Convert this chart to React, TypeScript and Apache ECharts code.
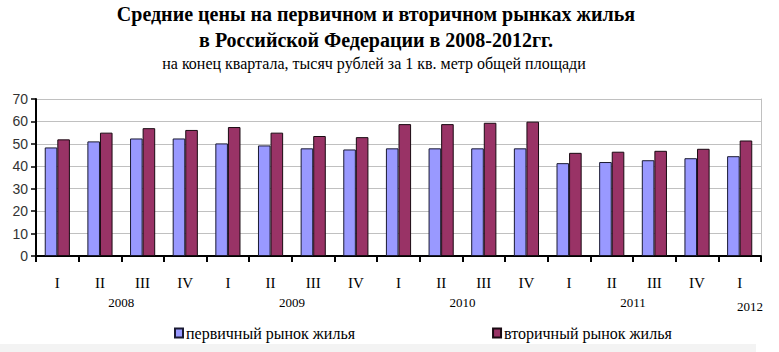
import React, { useEffect, useRef } from "react";
import * as echarts from "echarts";

const quarters = ["I", "II", "III", "IV", "I", "II", "III", "IV", "I", "II", "III", "IV", "I", "II", "III", "IV", "I"];
const primaryMarket = [48.4, 51.1, 52.4, 52.4, 50.2, 49.3, 48.0, 47.5, 48.0, 48.0, 48.0, 48.0, 41.4, 41.9, 42.7, 43.6, 44.5];
const secondaryMarket = [52.0, 55.0, 57.0, 56.2, 57.5, 55.0, 53.5, 53.0, 58.8, 58.8, 59.4, 59.9, 46.0, 46.5, 46.9, 47.8, 51.5];
const yearLabels: Record<string, string> = { "2": "2008", "6": "2009", "10": "2010", "14": "2011", "17": "2012" };
const seriesNames = ["первичный рынок жилья", "вторичный рынок жилья"];

export default function App() {
  const ref = useRef<HTMLDivElement>(null);
  useEffect(() => {
    if (!ref.current) return;
    const chart = echarts.init(ref.current, null, { renderer: "svg" });
    const serif = "Liberation Serif";
    chart.setOption({
      animation: false,
      backgroundColor: "#ffffff",
      title: [
        {
          text: "Средние цены на первичном и вторичном рынках жилья\nв Российской Федерации в 2008-2012гг.",
          left: 376,
          top: 1,
          padding: 0,
          textAlign: "center",
          textStyle: { fontFamily: serif, fontWeight: "bold", fontSize: 20, lineHeight: 26, color: "#000" },
        },
        {
          text: "на конец квартала, тысяч рублей за 1 кв. метр общей площади",
          left: 374,
          top: 55,
          padding: 0,
          textAlign: "center",
          textStyle: { fontFamily: serif, fontWeight: "normal", fontSize: 16, color: "#000" },
        },
      ],
      legend: {
        left: 169,
        top: 320,
        itemWidth: 8,
        itemHeight: 9,
        itemGap: 137,
        icon: "rect",
        textStyle: { fontFamily: serif, fontSize: 16, color: "#000", padding: [0, 0, 0, -2] },
        data: seriesNames,
      },
      grid: { left: 36, right: 18, top: 99, bottom: 96, containLabel: false },
      xAxis: [
        {
          type: "category",
          data: quarters,
          position: "bottom",
          axisLine: { lineStyle: { color: "#000", width: 2 } },
          axisTick: { show: true, length: 6, lineStyle: { color: "#000", width: 2 } },
          axisLabel: { margin: 19, fontFamily: serif, fontSize: 15, color: "#000" },
        },
        {
          type: "value",
          position: "bottom",
          min: 0,
          max: 17,
          interval: 1,
          axisLine: { show: false },
          axisTick: { show: false },
          splitLine: { show: false },
          axisLabel: {
            showMinLabel: true,
            showMaxLabel: true,
            margin: 40,
            fontFamily: serif,
            fontSize: 13,
            color: "#000",
            formatter: (v: number) => {
              const s = yearLabels[String(v)];
              if (!s) return "";
              return v === 17 ? "{last|" + s + "}" : s;
            },
            rich: {
              last: { fontFamily: serif, fontSize: 13, color: "#000", padding: [4, 22, 0, 0] },
            },
          },
        },
      ],
      yAxis: [
        {
          type: "value",
          min: 0,
          max: 70,
          interval: 10,
          axisLine: { show: true, lineStyle: { color: "#000", width: 2 } },
          axisTick: { show: true, length: 5, lineStyle: { color: "#000", width: 1.5 } },
          axisLabel: { margin: 8, fontFamily: "Liberation Sans", fontSize: 14, color: "#333" },
          splitLine: { show: true, lineStyle: { color: "#c0c0c0", width: 1 } },
        },
        {
          type: "value",
          position: "right",
          min: 0,
          max: 70,
          interval: 10,
          axisLine: { show: true, lineStyle: { color: "#c0c0c0", width: 1 } },
          axisTick: { show: false },
          axisLabel: { show: false },
          splitLine: { show: false },
        },
      ],
      series: [
        {
          name: seriesNames[0],
          type: "bar",
          data: primaryMarket,
          barGap: "0%",
          barCategoryGap: "41%",
          itemStyle: { color: "#9999ff", borderColor: "#1a1a33", borderWidth: 1 },
        },
        {
          name: seriesNames[1],
          type: "bar",
          data: secondaryMarket,
          barGap: "0%",
          barCategoryGap: "41%",
          itemStyle: { color: "#993366", borderColor: "#1a0a12", borderWidth: 1 },
        },
      ],
      graphic: [
        {
          type: "rect",
          left: 0,
          top: 344,
          shape: { width: 756, height: 8 },
          style: { fill: "#f3f3f3" },
          silent: true,
          z: -1,
        },
      ],
    });
    return () => chart.dispose();
  }, []);
  return <div ref={ref} style={{ position: "fixed", left: 0, top: 0, width: 779, height: 352 }} />;
}
